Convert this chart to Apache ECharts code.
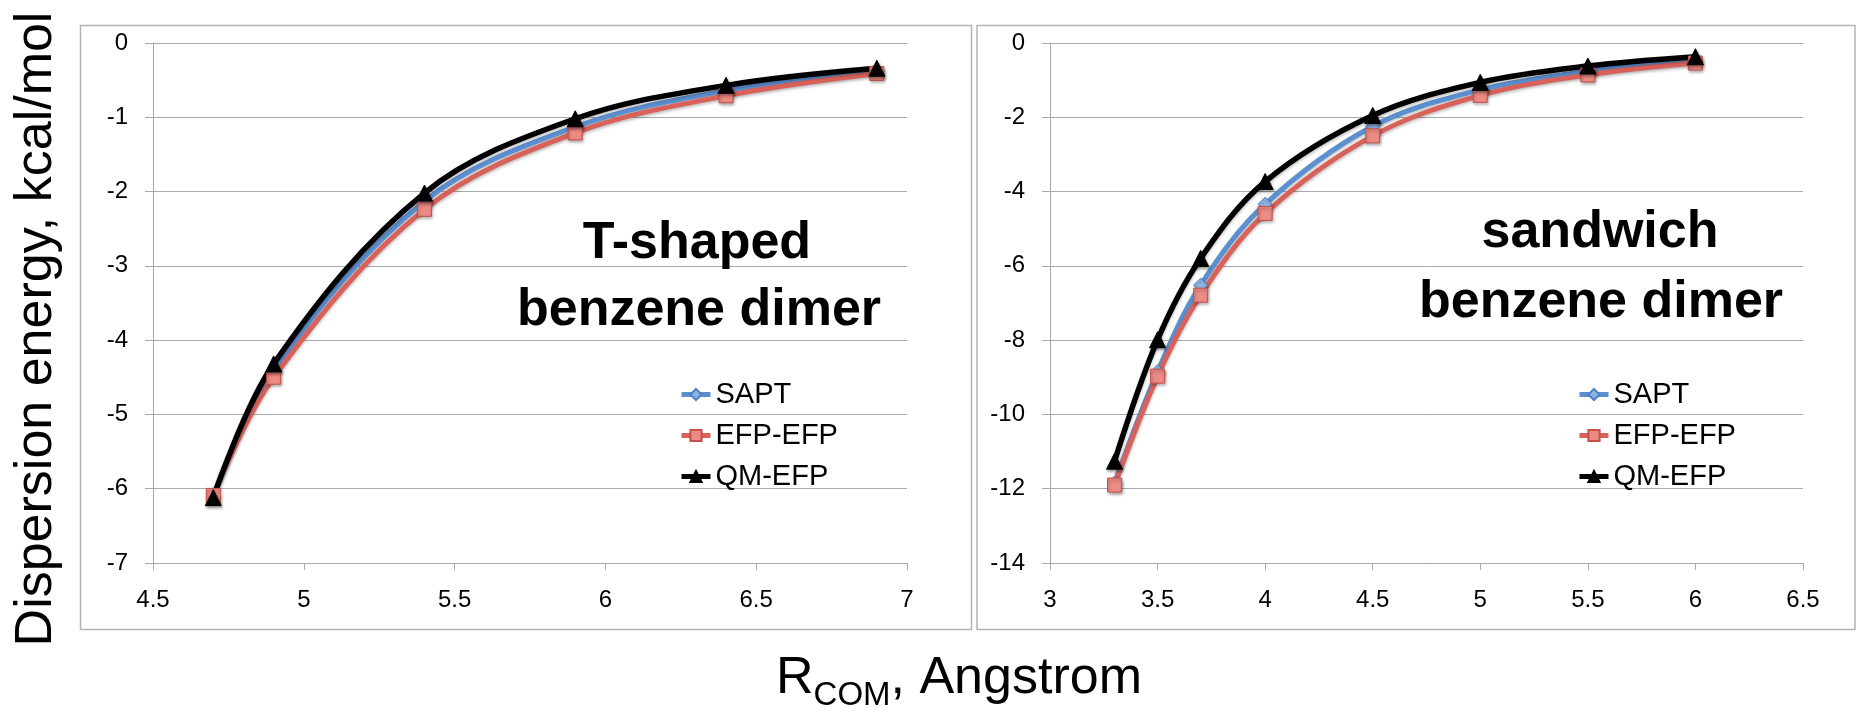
<!DOCTYPE html>
<html>
<head>
<meta charset="utf-8">
<title>Dispersion energy of benzene dimers</title>
<script src="https://cdn.jsdelivr.net/npm/echarts@6/dist/echarts.min.js"></script>
<style>
  html, body { margin: 0; padding: 0; background: #ffffff; }
  #chart { width: 1860px; height: 708px; }
</style>
</head>
<body>
<div id="chart"></div>
<script>
// ---- data -------------------------------------------------------------
// T-shaped benzene dimer: separation (Angstrom) and dispersion energy (kcal/mol)
const tShapedR = [4.7, 4.9, 5.4, 5.9, 6.4, 6.9];
const tShapedSAPT = [-6.10, -4.40, -2.13, -1.13, -0.64, -0.38];
const tShapedEFPEFP = [-6.09, -4.50, -2.24, -1.21, -0.71, -0.41];
const tShapedQMEFP = [-6.12, -4.32, -2.02, -1.02, -0.57, -0.34];

// sandwich benzene dimer
const sandwichR = [3.3, 3.5, 3.7, 4.0, 4.5, 5.0, 5.5, 6.0];
const sandwichSAPT = [-11.85, -8.85, -6.52, -4.34, -2.24, -1.26, -0.76, -0.46];
const sandwichEFPEFP = [-11.90, -8.97, -6.79, -4.59, -2.50, -1.41, -0.86, -0.54];
const sandwichQMEFP = [-11.26, -7.99, -5.80, -3.73, -1.95, -1.06, -0.62, -0.37];

const seriesNames = ['SAPT', 'EFP-EFP', 'QM-EFP'];
const panelTitles = [['T-shaped', 'benzene dimer'], ['sandwich', 'benzene dimer']];
const yAxisTitle = 'Dispersion energy, kcal/mol';
const xAxisTitleMain = 'R';
const xAxisTitleSub = 'COM';
const xAxisTitleRest = ', Angstrom';

// ---- styling ----------------------------------------------------------
const FONT = "'Liberation Sans', Arial, Helvetica, sans-serif";
const GRID_COLOR = '#a9a9a9';
const BOX_COLOR = '#b4b4b4';

const seriesStyle = {
  'SAPT':    { line: '#5b8fd0', fill: '#8db4e6', border: '#4f81bd', symbol: 'diamond', size: 14, width: 5 },
  'EFP-EFP': { line: '#d8625a', fill: '#ec8a84', border: '#c9504a', symbol: 'rect', size: 14, width: 5 },
  'QM-EFP':  { line: '#000000', fill: '#000000', border: '#000000', symbol: 'triangle', size: 16, width: 5.5 }
};

function pairs(xs, ys) { return xs.map((x, i) => [x, ys[i]]); }

function makeSeries(name, xs, ys, idx) {
  const st = seriesStyle[name];
  return {
    name: name,
    type: 'line',
    xAxisIndex: idx,
    yAxisIndex: idx,
    data: pairs(xs, ys),
    smooth: 0.35,
    symbol: st.symbol,
    symbolSize: st.size,
    showSymbol: true,
    lineStyle: {
      color: st.line, width: st.width,
      shadowColor: 'rgba(0,0,0,0.25)', shadowBlur: 3, shadowOffsetY: 2
    },
    itemStyle: {
      color: st.fill, borderColor: st.border, borderWidth: 1,
      shadowColor: 'rgba(0,0,0,0.35)', shadowBlur: 3, shadowOffsetX: 1, shadowOffsetY: 2
    },
    emphasis: { disabled: true },
    z: 3
  };
}

function xAxisFor(idx, min, max) {
  return {
    type: 'value', gridIndex: idx, min: min, max: max, interval: 0.5,
    axisLine: { show: true, onZero: false, lineStyle: { color: GRID_COLOR, width: 1 } },
    axisTick: { show: true, length: 7, lineStyle: { color: GRID_COLOR, width: 1 } },
    axisLabel: { fontSize: 24, color: '#000', fontFamily: FONT, margin: 25 },
    splitLine: { show: false }
  };
}

function yAxisFor(idx, min, max, step) {
  return {
    type: 'value', gridIndex: idx, min: min, max: max, interval: step,
    axisLine: { show: true, onZero: false, lineStyle: { color: GRID_COLOR, width: 1 } },
    axisTick: { show: true, length: 8, lineStyle: { color: GRID_COLOR, width: 1 } },
    axisLabel: { fontSize: 24, color: '#000', fontFamily: FONT, margin: 25 },
    splitLine: { show: true, lineStyle: { color: GRID_COLOR, width: 1 } }
  };
}

function legendAt(left) {
  return {
    left: left, top: 380, orient: 'vertical', padding: 0,
    data: seriesNames,
    itemWidth: 29, itemHeight: 14, itemGap: 12,
    lineStyle: { width: 5 },
    textStyle: { fontSize: 29, lineHeight: 28, color: '#000', fontFamily: FONT },
    selectedMode: false
  };
}

// measure text so the subscripted x-axis title can be laid out in pieces
const measureCtx = document.createElement('canvas').getContext('2d');
function textWidth(str, size, weight) {
  measureCtx.font = (weight || 'normal') + ' ' + size + 'px ' + FONT;
  return measureCtx.measureText(str).width;
}

function label(text, x, y, size, opts) {
  opts = opts || {};
  return {
    type: 'text', x: x, y: y, rotation: opts.rotation || 0, z: 10,
    style: {
      text: text, fill: '#000',
      fontSize: size, fontFamily: FONT, fontWeight: opts.weight || 'normal',
      align: opts.align || 'left', verticalAlign: 'middle',
      textAlign: opts.align || 'left', textVerticalAlign: 'middle'
    }
  };
}

const titleSize = 52, subSize = 33;
const xTitleLeft = 776;
const wMain = textWidth(xAxisTitleMain, titleSize);
const wSub = textWidth(xAxisTitleSub, subSize);

const graphics = [
  { type: 'rect', shape: { x: 80.5, y: 25.5, width: 891, height: 604 }, style: { fill: null, stroke: BOX_COLOR, lineWidth: 1.5 }, z: 0 },
  { type: 'rect', shape: { x: 977, y: 25.5, width: 878, height: 604 }, style: { fill: null, stroke: BOX_COLOR, lineWidth: 1.5 }, z: 0 },
  label(yAxisTitle, 37, 329, titleSize, { align: 'center', rotation: Math.PI / 2 }),
  label(xAxisTitleMain, xTitleLeft, 679, titleSize),
  label(xAxisTitleSub, xTitleLeft + wMain, 696, subSize),
  label(xAxisTitleRest, xTitleLeft + wMain + wSub, 679, titleSize),
  label(panelTitles[0][0], 697, 244, 52, { align: 'center', weight: 'bold' }),
  label(panelTitles[0][1], 699, 311, 52, { align: 'center', weight: 'bold' }),
  label(panelTitles[1][0], 1600, 233, 52, { align: 'center', weight: 'bold' }),
  label(panelTitles[1][1], 1601, 303, 52, { align: 'center', weight: 'bold' })
];

const option = {
  backgroundColor: '#ffffff',
  animation: false,
  grid: [
    { left: 153, top: 43, width: 754, height: 520 },
    { left: 1050, top: 43, width: 753, height: 520 }
  ],
  xAxis: [xAxisFor(0, 4.5, 7), xAxisFor(1, 3, 6.5)],
  yAxis: [yAxisFor(0, -7, 0, 1), yAxisFor(1, -14, 0, 2)],
  legend: [legendAt(679), legendAt(1577)],
  series: [
    makeSeries('SAPT', tShapedR, tShapedSAPT, 0),
    makeSeries('EFP-EFP', tShapedR, tShapedEFPEFP, 0),
    makeSeries('QM-EFP', tShapedR, tShapedQMEFP, 0),
    makeSeries('SAPT', sandwichR, sandwichSAPT, 1),
    makeSeries('EFP-EFP', sandwichR, sandwichEFPEFP, 1),
    makeSeries('QM-EFP', sandwichR, sandwichQMEFP, 1)
  ],
  graphic: graphics
};

const chart = echarts.init(document.getElementById('chart'), null, { renderer: 'canvas' });
chart.setOption(option);
</script>
</body>
</html>
